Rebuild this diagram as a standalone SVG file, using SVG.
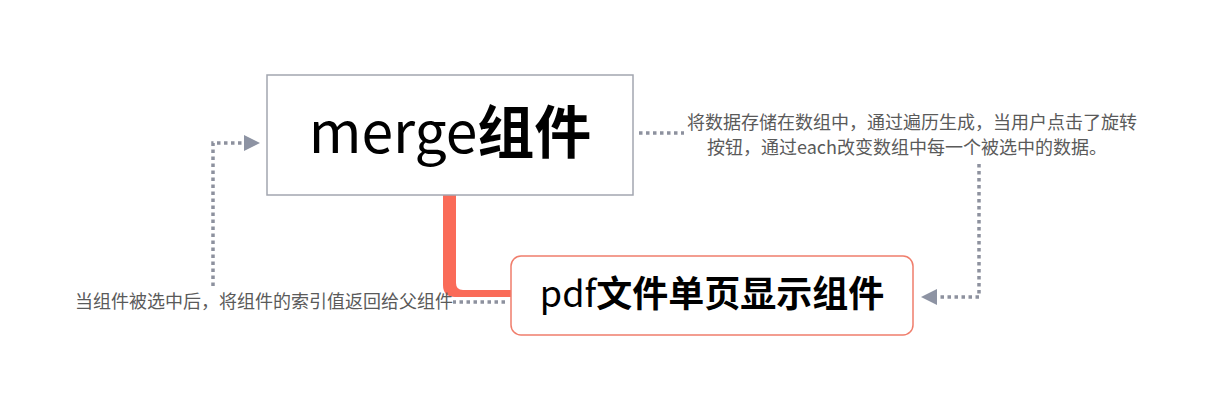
<svg xmlns="http://www.w3.org/2000/svg" width="1212" height="411" viewBox="0 0 1212 411">
<defs>
<style>
.node-merge{fill:#fff;stroke:#A3A6B0;stroke-width:1.5}
.node-pdf{fill:#fff;stroke:#F07E6C;stroke-width:1.5}
.title{font-family:"Noto Sans CJK SC","Noto Sans",sans-serif;fill:#000}
.b{font-weight:bold}
.dot{fill:none;stroke:#8D919E;stroke-width:3.5;stroke-dasharray:3.5 3.5}
.lbl{font-family:"Noto Sans CJK SC",sans-serif;font-size:18px;fill:#5a5a5a;font-weight:normal}
.arrow{fill:#8D93A3}
</style>
</defs>
<rect width="1212" height="411" fill="#fff"/>
<g id="connectors">
<path d="M443,195 L456,195 L456,283 Q456,290 463,290 L512,290 L512,297 L455,297 Q443,297 443,285 Z" fill="#FA6B58"/>
<path class="dot" d="M639,133 L684,133"/>
<path class="dot" d="M979,164 L979,297 L937,297"/>
<polygon class="arrow" points="921,297 937,289 937,305"/>
<path class="dot" d="M505,302 L453,302"/>
<path class="dot" d="M213,286 L213,143 L244,143"/>
<polygon class="arrow" points="260,143 244,135 244,151"/>
</g>
<g id="label-right">
<text class="lbl" x="912" y="129" text-anchor="middle">将数据存储在数组中，通过遍历生成，当用户点击了旋转</text>
<text class="lbl" x="907" y="154" text-anchor="middle">按钮，通过each改变数组中每一个被选中的数据。</text>
</g>
<g id="label-left">
<text class="lbl" x="264" y="308" text-anchor="middle">当组件被选中后，将组件的索引值返回给父组件</text>
</g>
<g id="node-merge">
<rect class="node-merge" x="267" y="75" width="366" height="120"/>
<text class="title" x="450" y="153" font-size="57" text-anchor="middle">merge<tspan class="b">组件</tspan></text>
</g>
<g id="node-pdf">
<rect class="node-pdf" x="511" y="256" width="402" height="79" rx="10"/>
<text class="title" x="712" y="307" font-size="36" text-anchor="middle">pdf<tspan class="b">文件单页显示组件</tspan></text>
</g>
</svg>
